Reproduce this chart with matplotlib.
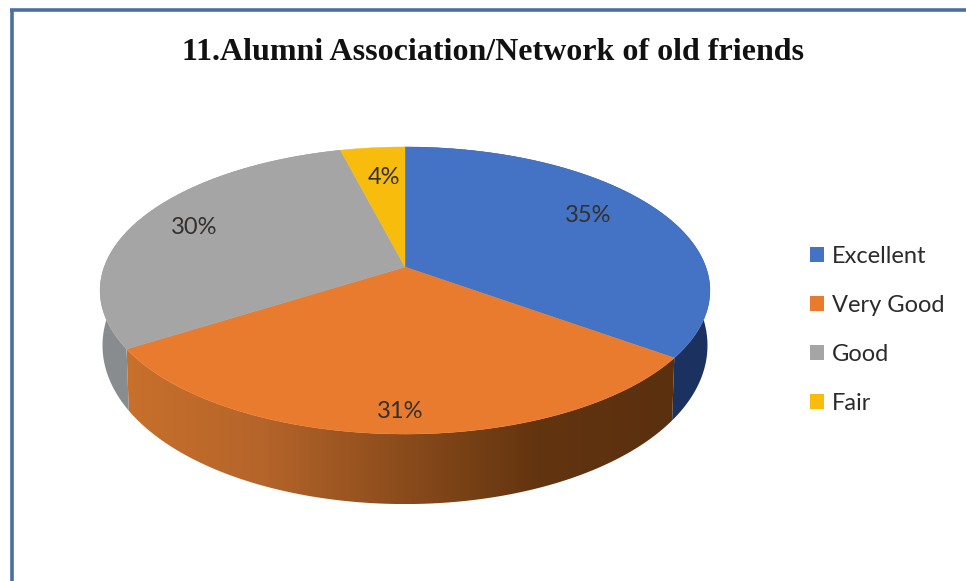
import numpy as np
import matplotlib
matplotlib.use('Agg')
import matplotlib.pyplot as plt
from matplotlib.colors import LinearSegmentedColormap
from matplotlib.patches import Polygon, Patch

title = '11.Alumni Association/Network of old friends'
categories = ['Excellent', 'Very Good', 'Good', 'Fair']
shares = [35, 31, 30, 4]
top_colors = ['#4472c4', '#e97b2e', '#a5a5a5', '#f8bd0c']
side_colors = [['#1f3864', '#1b3260'],
               ['#c8702c', '#b5642a', '#8b4c1c', '#63340f', '#5a300f'],
               ['#8a8d90', '#84878a'],
               ['#b38600', '#b38600']]
label_pos = [(588, 215), (400, 411), (194, 227), (384, 177)]

# pie geometry in pixels, a circle seen in perspective
cx, cy = 405, 267
rx, ry, k = 300.8, 139.7, 0.1638


def rim(theta):
    X, Y = np.sin(theta), np.cos(theta)
    d = 1 + k * Y
    return cx + rx * X / d, cy - ry * Y / d


def lower_rim(theta):
    x, y = rim(theta)
    return cx + (x - cx) * 0.992, y + 52 - 18 * np.cos(theta)


fig = plt.figure(figsize=(9.66, 5.81), dpi=100)
ax = fig.add_axes([0, 0, 1, 1])
ax.set_xlim(0, 966)
ax.set_ylim(581, 0)
ax.axis('off')

# frame, only left and top are in the picture
ax.plot([11.5, 11.5], [581, 9.5], color='#4a6fa5', lw=2.6, solid_capstyle='butt')
ax.plot([10, 966], [9.5, 9.5], color='#4a6fa5', lw=2.6, solid_capstyle='butt')

edges = np.cumsum([0] + shares) / sum(shares) * 2 * np.pi

# side walls first, the top covers whatever is hidden
for i in range(len(shares)):
    t = np.linspace(edges[i], edges[i + 1], 200)
    x0, y0 = rim(t)
    x1, y1 = lower_rim(t)
    pts = np.column_stack([np.r_[x0, x1[::-1]], np.r_[y0, y1[::-1]]])
    if np.all(np.cos(t) > 0):
        continue
    wall = Polygon(pts, closed=True, facecolor='none', edgecolor='none')
    ax.add_patch(wall)
    cmap = LinearSegmentedColormap.from_list('wall', side_colors[i])
    im = ax.imshow(np.linspace(0, 1, 256).reshape(1, -1), cmap=cmap, aspect='auto',
                   extent=[pts[:, 0].min(), pts[:, 0].max(), pts[:, 1].max(), pts[:, 1].min()])
    im.set_clip_path(wall)
ax.set_xlim(0, 966)
ax.set_ylim(581, 0)

# top face
for i in range(len(shares)):
    t = np.linspace(edges[i], edges[i + 1], 200)
    x0, y0 = rim(t)
    ax.fill(np.r_[cx, x0], np.r_[cy, y0], color=top_colors[i], lw=0.3)
    ax.text(label_pos[i][0], label_pos[i][1], '%d%%' % shares[i], ha='center', va='center',
            fontsize=17, family='Lato', color='#33302e')

ax.text(492.5, 53, title, ha='center', va='center', fontsize=23,
        family='Liberation Serif', weight='bold', color='#111111')

handles = [Patch(facecolor=c, edgecolor='none') for c in top_colors]
ax.legend(handles, categories, loc='upper left', bbox_to_anchor=(0.8385, 0.577), frameon=False,
          prop={'family': 'Lato', 'size': 17}, labelcolor='#2b2b2b',
          handlelength=0.6, handleheight=0.6, handletextpad=0.34, labelspacing=1.19,
          borderpad=0, borderaxespad=0)

fig.savefig('out.png', dpi=100)
